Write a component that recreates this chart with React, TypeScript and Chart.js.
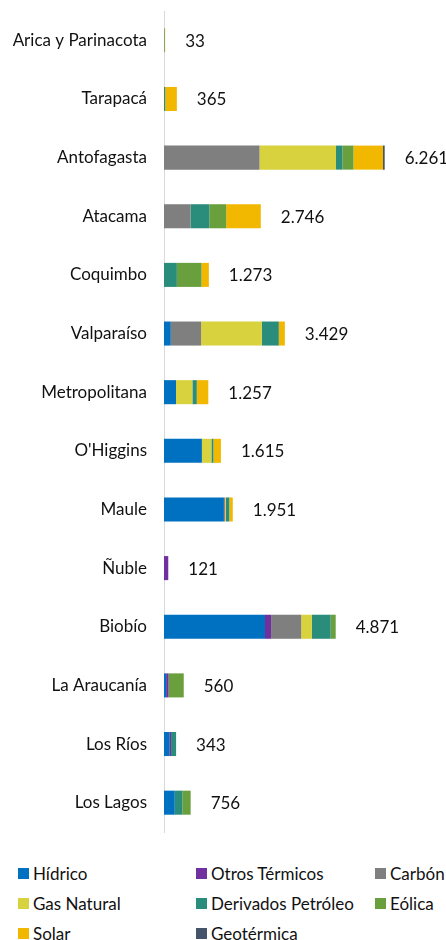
import React, { useEffect, useRef } from "react";
import { Chart, registerables } from "chart.js";

Chart.register(...registerables);

const regions = [
  "Arica y Parinacota", "Tarapacá", "Antofagasta", "Atacama", "Coquimbo", "Valparaíso",
  "Metropolitana", "O'Higgins", "Maule", "Ñuble", "Biobío", "La Araucanía", "Los Ríos", "Los Lagos",
];

const seriesNames = [
  "Hídrico", "Otros Térmicos", "Carbón", "Gas Natural", "Derivados Petróleo", "Eólica", "Solar", "Geotérmica",
];
const seriesColors = ["#0070C0", "#7030A0", "#7F7F7F", "#D8D23E", "#2A8C7A", "#6A9F3E", "#F2B800", "#44546A"];

const hidrico = [0, 0, 0, 0, 0, 192, 340, 1075, 1700, 0, 2865, 60, 150, 305];
const otrosTermicos = [0, 0, 0, 0, 0, 0, 0, 0, 20, 121, 172, 70, 50, 0];
const carbon = [0, 0, 2710, 750, 0, 860, 0, 0, 0, 0, 855, 0, 0, 0];
const gasNatural = [0, 0, 2170, 0, 0, 1725, 465, 270, 38, 0, 304, 0, 0, 0];
const derivados = [15, 35, 180, 535, 365, 480, 125, 58, 95, 0, 532, 0, 143, 215];
const eolica = [0, 0, 315, 480, 700, 0, 0, 0, 0, 0, 143, 430, 0, 236];
const solar = [18, 330, 838, 981, 208, 172, 327, 212, 98, 0, 0, 0, 0, 0];
const geotermica = [0, 0, 48, 0, 0, 0, 0, 0, 0, 0, 0, 0, 0, 0];

const seriesValues = [hidrico, otrosTermicos, carbon, gasNatural, derivados, eolica, solar, geotermica];

const xMax = 8000;
const FONT = "Lato, 'Open Sans', sans-serif";
const FS = 17;

function fmt(n: number): string {
  return String(Math.round(n)).replace(/\B(?=(\d{3})+(?!\d))/g, ".");
}

const totalsPlugin = {
  id: "totals",
  afterDatasetsDraw(chart: any) {
    const { ctx, scales } = chart;
    ctx.save();
    ctx.font = `${FS}px ${FONT}`;
    ctx.fillStyle = "#111";
    ctx.textAlign = "left";
    ctx.textBaseline = "middle";
    regions.forEach((_, i) => {
      const total = seriesValues.reduce((s, arr) => s + arr[i], 0);
      const x = scales.x.getPixelForValue(total) + 20;
      const y = scales.y.getPixelForValue(i);
      ctx.fillText(fmt(total), x, y + 1);
    });
    ctx.restore();
  },
};

export default function App() {
  const ref = useRef<HTMLCanvasElement>(null);
  useEffect(() => {
    document.body.style.margin = "0";
    const chart = new Chart(ref.current!, {
      type: "bar",
      data: {
        labels: regions,
        datasets: seriesNames.map((name, k) => ({
          label: name,
          data: seriesValues[k],
          backgroundColor: seriesColors[k],
          borderWidth: 0,
          barPercentage: 0.82,
          categoryPercentage: 0.5,
        })),
      },
      options: {
        indexAxis: "y",
        animation: false,
        responsive: false,
        maintainAspectRatio: false,
        layout: { padding: { top: 11, bottom: 11, left: 0, right: 0 } },
        plugins: { legend: { display: false }, tooltip: { enabled: false } },
        scales: {
          x: { stacked: true, display: false, min: 0, max: xMax },
          y: {
            stacked: true,
            grid: { display: false, drawTicks: false },
            border: { display: true, color: "#D9D9D9", width: 1 },
            ticks: {
              autoSkip: false,
              padding: 17,
              color: "#111",
              font: { family: FONT, size: FS },
            },
            afterFit(scale: any) {
              scale.width = 164;
              scale.paddingTop = 0;
              scale.paddingBottom = 0;
            },
          },
        },
      },
      plugins: [totalsPlugin],
    });
    return () => chart.destroy();
  }, []);

  const cols = [18, 196, 375];
  return (
    <div style={{ position: "relative", width: 446, height: 940, background: "#fff" }}>
      <canvas ref={ref} width={446} height={843} style={{ display: "block" }} />
      {seriesNames.map((name, k) => {
        const col = k % 3;
        const row = Math.floor(k / 3);
        return (
          <div
            key={name}
            style={{
              position: "absolute",
              left: cols[col],
              top: 873 + row * 30 - 10,
              height: 20,
              display: "flex",
              alignItems: "center",
              fontFamily: FONT,
              fontSize: FS,
              color: "#111",
              whiteSpace: "nowrap",
            }}
          >
            <span
              style={{
                display: "inline-block",
                width: 11,
                height: 11,
                background: seriesColors[k],
                marginRight: 4,
              }}
            />
            {name}
          </div>
        );
      })}
    </div>
  );
}
